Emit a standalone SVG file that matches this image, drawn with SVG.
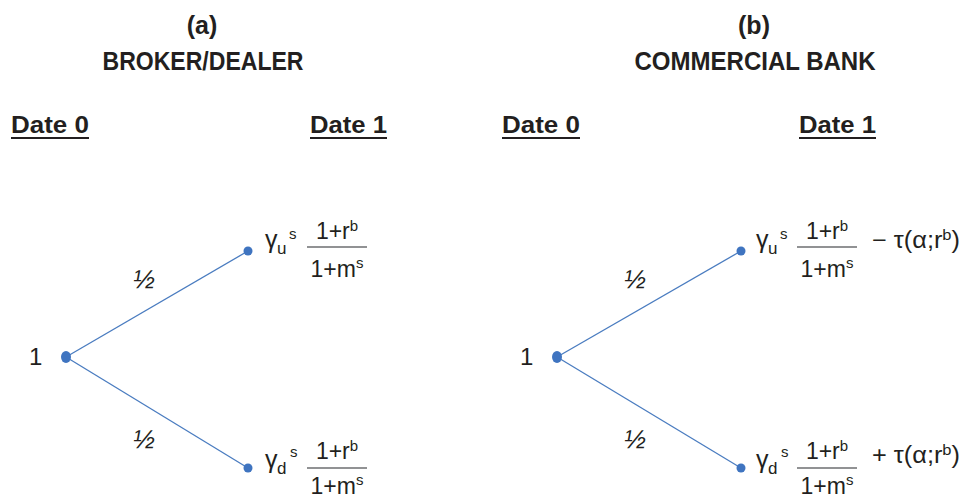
<svg xmlns="http://www.w3.org/2000/svg" width="968" height="498" viewBox="0 0 968 498">
  <style>
    text { font-family: "Liberation Sans", Arial, sans-serif; fill: #231f20; }
    .head { font-weight: bold; font-size: 25px; text-anchor: middle; }
    .date { font-weight: bold; font-size: 23px; }
    .num { font-size: 23px; }
    .root { font-size: 24px; }
    .prob { font-size: 26px; font-style: italic; text-anchor: middle; }
    .mid { text-anchor: middle; }
    .sup { font-size: 15px; }
    .gam { font-size: 25px; }
    .sub { font-size: 17px; }
    .edge { stroke: #4a7cc0; stroke-width: 1.3; fill: none; }
    .dot { fill: #3f74c0; }
    .bar { stroke: #6d6e71; stroke-width: 1.4; }
    .ul { fill: #231f20; }
  </style>

  <!-- panel titles -->
  <g id="title-a">
    <text class="head" x="202" y="34">(a)</text>
    <text class="head" x="203" y="70" textLength="201" lengthAdjust="spacingAndGlyphs">BROKER/DEALER</text>
  </g>
  <g id="title-b">
    <text class="head" x="754" y="34">(b)</text>
    <text class="head" x="755" y="70" textLength="241" lengthAdjust="spacingAndGlyphs">COMMERCIAL BANK</text>
  </g>

  <!-- date headers -->
  <g id="dates-a">
    <text class="date" x="11" y="133" textLength="78" lengthAdjust="spacingAndGlyphs">Date 0</text>
    <rect class="ul" x="11" y="137" width="78" height="2"/>
    <text class="date" x="310" y="133" textLength="77" lengthAdjust="spacingAndGlyphs">Date 1</text>
    <rect class="ul" x="310" y="137" width="77" height="2"/>
  </g>
  <g id="dates-b">
    <text class="date" x="502" y="133" textLength="78" lengthAdjust="spacingAndGlyphs">Date 0</text>
    <rect class="ul" x="502" y="137" width="78" height="2"/>
    <text class="date" x="799" y="133" textLength="77" lengthAdjust="spacingAndGlyphs">Date 1</text>
    <rect class="ul" x="799" y="137" width="77" height="2"/>
  </g>

  <!-- tree branches -->
  <g id="connectors">
    <line class="edge" x1="66" y1="357" x2="248" y2="251"/>
    <line class="edge" x1="66" y1="357" x2="248" y2="468"/>
    <line class="edge" x1="557" y1="357" x2="741" y2="251"/>
    <line class="edge" x1="557" y1="357" x2="741" y2="468"/>
    <text class="prob" x="144" y="288">½</text>
    <text class="prob" x="144" y="448">½</text>
    <text class="prob" x="635" y="288">½</text>
    <text class="prob" x="635" y="448">½</text>
  </g>

  <!-- panel (a) nodes -->
  <g id="a-root">
    <ellipse class="dot" cx="66" cy="357" rx="5" ry="6"/>
    <text class="root" x="29" y="365">1</text>
  </g>
  <g id="a-up">
    <circle class="dot" cx="248" cy="251" r="4.5"/>
    <text class="gam" x="265" y="248">γ</text>
    <text class="sub" x="277" y="254">u</text>
    <text class="sup" x="289" y="239">s</text>
    <text class="num mid" x="337" y="239">1+r<tspan class="sup" dy="-8">b</tspan></text>
    <line class="bar" x1="307" y1="247" x2="367" y2="247"/>
    <text class="num mid" x="337" y="277">1+m<tspan class="sup" dy="-9">s</tspan></text>
  </g>
  <g id="a-down">
    <circle class="dot" cx="248" cy="468" r="4.5"/>
    <text class="gam" x="265" y="468">γ</text>
    <text class="sub" x="277" y="474">d</text>
    <text class="sup" x="290" y="457">s</text>
    <text class="num mid" x="337" y="459">1+r<tspan class="sup" dy="-8">b</tspan></text>
    <line class="bar" x1="307" y1="468" x2="367" y2="468"/>
    <text class="num mid" x="337" y="494">1+m<tspan class="sup" dy="-9">s</tspan></text>
  </g>

  <!-- panel (b) nodes -->
  <g id="b-root">
    <ellipse class="dot" cx="557" cy="357" rx="5" ry="6"/>
    <text class="root" x="520" y="365">1</text>
  </g>
  <g id="b-up">
    <circle class="dot" cx="741" cy="251" r="4.5"/>
    <text class="gam" x="756" y="248">γ</text>
    <text class="sub" x="768" y="254">u</text>
    <text class="sup" x="780" y="239">s</text>
    <text class="num mid" x="827" y="239">1+r<tspan class="sup" dy="-8">b</tspan></text>
    <line class="bar" x1="797" y1="247" x2="857" y2="247"/>
    <text class="num mid" x="827" y="277">1+m<tspan class="sup" dy="-9">s</tspan></text>
    <text class="num" x="872" y="248" textLength="88" lengthAdjust="spacingAndGlyphs">− τ(α;r<tspan class="sup" dy="-8">b</tspan><tspan dy="8">)</tspan></text>
  </g>
  <g id="b-down">
    <circle class="dot" cx="741" cy="468" r="4.5"/>
    <text class="gam" x="756" y="468">γ</text>
    <text class="sub" x="768" y="474">d</text>
    <text class="sup" x="781" y="457">s</text>
    <text class="num mid" x="827" y="459">1+r<tspan class="sup" dy="-8">b</tspan></text>
    <line class="bar" x1="797" y1="468" x2="857" y2="468"/>
    <text class="num mid" x="827" y="494">1+m<tspan class="sup" dy="-9">s</tspan></text>
    <text class="num" x="872" y="463" textLength="88" lengthAdjust="spacingAndGlyphs">+ τ(α;r<tspan class="sup" dy="-8">b</tspan><tspan dy="8">)</tspan></text>
  </g>
</svg>
